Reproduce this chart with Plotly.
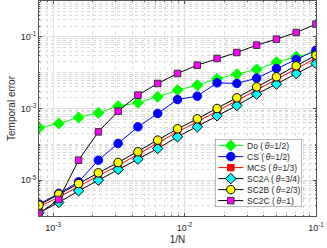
import plotly.graph_objects as go

# ---- data -------------------------------------------------------------
dt = [0.1, 0.0707107, 0.05, 0.0353553, 0.025, 0.0176777, 0.0125, 0.00883883,
      0.00625, 0.00441942, 0.003125, 0.00220971, 0.0015625, 0.00110485, 0.00078125]

err_do = [3.81e-2, 2.77e-2, 1.96e-2, 1.23e-2, 9.08e-3, 6.73e-3, 4.48e-3, 3.25e-3,
          2.12e-3, 1.44e-3, 1.16e-3, 7.57e-4, 5.61e-4, 3.81e-4, 2.89e-4]
err_cs = [4.25e-2, 2.33e-2, 1.31e-2, 7.02e-3, 4.99e-3, 5.20e-3, 2.21e-3, 1.78e-3,
          7.25e-4, 3.08e-4, 1.06e-4, 3.61e-5, 8.99e-6, 4.24e-6, 2.14e-6]
err_mcs = [2.54e-2, 1.28e-2, 6.31e-3, 3.32e-3, 1.64e-3, 8.25e-4, 4.25e-4, 2.23e-4,
           1.08e-4, 5.09e-5, 2.57e-5, 1.32e-5, 6.66e-6, 3.35e-6, 1.80e-6]
err_sc2a = [1.80e-2, 9.48e-3, 4.78e-3, 2.51e-3, 1.21e-3, 6.24e-4, 3.08e-4, 1.62e-4,
            7.65e-5, 3.85e-5, 1.99e-5, 1.00e-5, 5.04e-6, 2.38e-6, 1.23e-6]
err_sc2b = [3.08e-2, 1.55e-2, 7.65e-3, 4.02e-3, 1.99e-3, 1.00e-3, 5.15e-4, 2.71e-4,
            1.31e-4, 6.18e-5, 3.11e-5, 1.60e-5, 8.07e-6, 4.07e-6, 2.01e-6]
err_sc2c = [2.26e-1, 1.32e-1, 8.61e-2, 5.86e-2, 3.65e-2, 2.49e-2, 1.62e-2, 9.48e-3,
            4.99e-3, 2.36e-3, 8.42e-4, 2.23e-4, 3.61e-5, 2.89e-6, 1.17e-6]

series_names = ["Do (\u2009<i>θ</i>=1/2)", "CS (\u2009<i>θ</i>=1/2)", "MCS (\u2009<i>θ</i>=1/3)",
                "SC2A (\u2009<i>θ</i>=3/4)", "SC2B (\u2009<i>θ</i>=2/3)", "SC2C (\u2009<i>θ</i>=1)"]
series_values = [err_do, err_cs, err_mcs, err_sc2a, err_sc2b, err_sc2c]

x_tickvals = [1e-3, 1e-2, 1e-1]
x_ticktext = ["10<sup>-3</sup>", "10<sup>-2</sup>", "10<sup>-1</sup>"]
y_tickvals = [1e-5, 1e-3, 1e-1]
y_ticktext = ["10<sup>-5</sup>", "10<sup>-3</sup>", "10<sup>-1</sup>"]

# ---- styles -----------------------------------------------------------
styles = [
    dict(line="#00ff00", sym="diamond", fill="#00ff00", edge="#00ff00", size=8.5),
    dict(line="#0000ff", sym="circle", fill="#0000ff", edge="#0000ff", size=8.5),
    dict(line="#ff0000", sym="square", fill="#ff0000", edge="#ff0000", size=6.5),
    dict(line="#000000", sym="diamond", fill="#00ffff", edge="#000000", size=8),
    dict(line="#000000", sym="circle", fill="#ffff00", edge="#000000", size=8.5),
    dict(line="#000000", sym="square", fill="#ff00ff", edge="#333333", size=6.5),
]

FONT = "Liberation Sans, Arial, Helvetica, sans-serif"
TXT = "#262626"

fig = go.Figure()
for name, vals, st in zip(series_names, series_values, styles):
    fig.add_trace(go.Scatter(
        x=dt, y=vals, mode="lines+markers", name=name, showlegend=False,
        line=dict(color=st["line"], width=1),
        marker=dict(symbol=st["sym"], size=st["size"], color=st["fill"],
                    line=dict(color=st["edge"], width=1)),
        xaxis="x", yaxis="y"))

# ---- hand-built legend (compact, MATLAB-like) ------------------------
LEG_W, LEG_H = 87, 68
row0, row_gap = 6.6, 11
for i, (name, st) in enumerate(zip(series_names, styles)):
    yy = row0 + row_gap * i
    fig.add_trace(go.Scatter(x=[3.3, 28.3], y=[yy, yy], mode="lines",
                             line=dict(color=st["line"], width=1), showlegend=False,
                             hoverinfo="skip", xaxis="x2", yaxis="y2"))
    fig.add_trace(go.Scatter(x=[15.8], y=[yy], mode="markers", showlegend=False,
                             marker=dict(symbol=st["sym"], size=st["size"], color=st["fill"],
                                         line=dict(color=st["edge"], width=1)),
                             hoverinfo="skip", xaxis="x2", yaxis="y2"))
    fig.add_annotation(x=30, y=yy, xref="x2", yref="y2", text=name, showarrow=False,
                       xanchor="left", yanchor="middle",
                       font=dict(family=FONT, size=8.5, color=TXT))

fig.add_shape(type="rect", xref="x2", yref="y2", x0=0, x1=LEG_W, y0=0, y1=LEG_H,
              fillcolor="white", line=dict(color="#555555", width=0.8), layer="below")

minor_vals = [m * 10.0 ** e for e in range(-7, 1) for m in range(1, 10)]

common = dict(
    type="log", showline=True, linecolor="#555555", linewidth=0.8, mirror="ticks",
    ticks="inside", ticklen=3, tickcolor="#555555", tickwidth=0.6,
    showgrid=True, gridcolor="#e2e2e2", gridwidth=0.6, zeroline=False,
    automargin=False,
    tickfont=dict(family=FONT, size=9, color=TXT),
    minor=dict(tickvals=minor_vals, ticks="inside", ticklen=1.5, tickcolor="#555555",
               showgrid=True, gridcolor="#dadada", griddash="dot", gridwidth=0.5),
)

fig.update_layout(
    width=327, height=248, autosize=False,
    margin=dict(l=39, r=11, t=1, b=32),
    paper_bgcolor="white", plot_bgcolor="white",
    font=dict(family=FONT, color=TXT),
    xaxis=dict(common, range=[-3.1072, -1], tickmode="array", tickvals=x_tickvals,
               ticktext=x_ticktext, ticklabelstandoff=3,
               title=dict(text="1/N", font=dict(family=FONT, size=10, color=TXT), standoff=4)),
    yaxis=dict(common, range=[-6, 0], tickmode="array", tickvals=y_tickvals,
               ticktext=y_ticktext,
               title=dict(text="Temporal error", font=dict(family=FONT, size=10, color=TXT),
                          standoff=3)),
    xaxis2=dict(domain=[(215 - 39) / 277, (302 - 39) / 277], anchor="y2", range=[0, LEG_W],
                visible=False, fixedrange=True, automargin=False),
    yaxis2=dict(domain=[(216 - 207) / 215, (216 - 139) / 215], anchor="x2", range=[LEG_H, 0],
                visible=False, fixedrange=True, automargin=False),
)

fig.write_html("out.html", config={"displayModeBar": False},
               post_script="document.body.style.margin='0';document.body.style.padding='0';")
